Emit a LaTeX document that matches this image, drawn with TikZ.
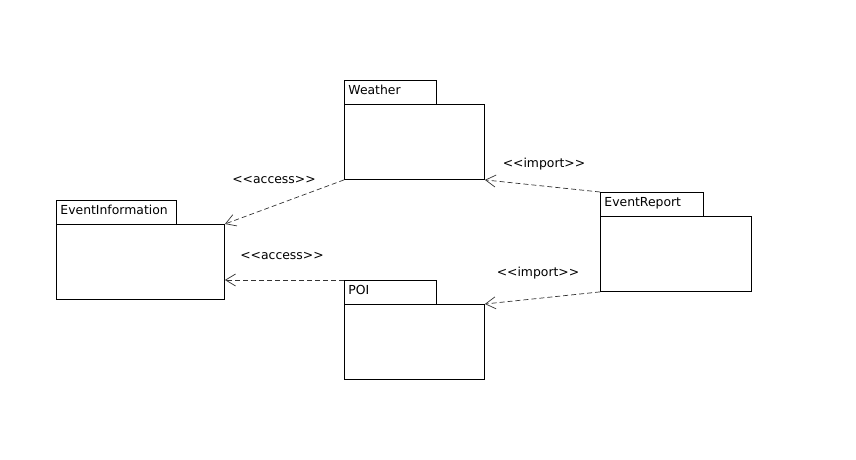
\documentclass[tikz,border=0pt]{standalone}
\usepackage{fontspec}
\setmainfont{DejaVu Sans}
\usetikzlibrary{arrows.meta}

\begin{document}
\begin{tikzpicture}[x=1pt,y=-1pt,
  pkgtab/.style={draw,line width=0.9pt,anchor=north west,minimum height=24pt,inner xsep=4pt,inner ysep=0pt,
    text height=9pt,text depth=4.5pt,align=left,font=\fontsize{12.4}{14}\selectfont},
  pkgbody/.style={draw,line width=0.9pt,anchor=north west,minimum width=140pt,minimum height=75pt,inner sep=0pt},
  dep/.style={draw=black!80,line width=0.7pt,dash pattern=on 5pt off 3pt,-{Straight Barb[length=10pt,width=12pt,line width=0.7pt]}},
  stereo/.style={font=\fontsize{12.4}{14}\selectfont,inner sep=0pt}]
\useasboundingbox (0,0) rectangle (856,460);
\node[pkgtab,text width=84pt] (wtab) at (344,80) {Weather};
\node[pkgbody] (wbody) at (344,104) {};
\node[pkgtab,text width=112pt] (eitab) at (56,200) {EventInformation};
\node[pkgbody,minimum width=168pt] (eibody) at (56,224) {};
\node[pkgtab,text width=95pt] (ertab) at (600,192) {EventReport};
\node[pkgbody,minimum width=151pt] (erbody) at (600,216) {};
\node[pkgtab,text width=84pt] (poitab) at (344,280) {POI};
\node[pkgbody] (poibody) at (344,304) {};
\draw[dep] (wbody.south west) -- (eibody.north east);
\draw[dep] (poitab.north west) -- (poitab.north west -| eibody.east);
\draw[dep] (ertab.north west) -- (wbody.south east);
\draw[dep] (erbody.south west) -- (poibody.north east);
\node[stereo] (acc1) at (274,180) {<{}<access>{}>};
\node[stereo] (acc2) at (282,256) {<{}<access>{}>};
\node[stereo] (imp1) at (544,164) {<{}<import>{}>};
\node[stereo] (imp2) at (538,273) {<{}<import>{}>};
\end{tikzpicture}
\end{document}
